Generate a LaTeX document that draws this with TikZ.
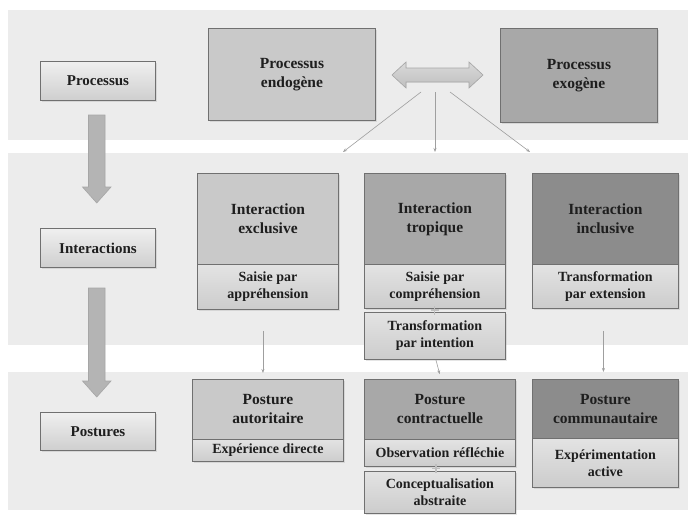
\documentclass[tikz,border=0pt]{standalone}
\usepackage{fontspec}
\setmainfont{Liberation Serif}
\usetikzlibrary{arrows.meta,shadows}
\definecolor{bandc}{HTML}{ECECEC}
\definecolor{linec}{HTML}{707070}
\definecolor{txt}{HTML}{1E1E1E}
\definecolor{cA}{HTML}{C9C9C9}
\definecolor{cB}{HTML}{A8A8A8}
\definecolor{cC}{HTML}{8C8C8C}
\definecolor{arrc}{HTML}{B4B4B4}
\begin{document}
\begin{tikzpicture}[x=1pt,y=-1pt,
  band/.style={fill=bandc,draw=none},
  box/.style={draw=linec,line width=0.9pt,anchor=north west,inner sep=0pt,align=center,text=txt,
    drop shadow={shadow xshift=1.2pt,shadow yshift=-1.2pt,opacity=0.2},
    font=\bfseries\fontsize{15.5}{19}\selectfont},
  titleA/.style={box,fill=cA},
  titleB/.style={box,fill=cB},
  titleC/.style={box,fill=cC},
  subbox/.style={box,top color=gray!22,bottom color=gray!40,font=\bfseries\fontsize{14}{17}\selectfont},
  lbox/.style={box,top color=gray!12,bottom color=gray!38,minimum width=115pt,font=\bfseries\fontsize{15}{18}\selectfont},
  thin/.style={draw=gray!75,line width=0.6pt,-{Stealth[length=4pt,width=3pt]}},
  blockarr/.style={fill=arrc,draw=gray!70,line width=0.6pt},
  plusmark/.style={draw=gray!50,line width=1.6pt}
]
\useasboundingbox (0,0) rectangle (691,517);
\fill[white] (0,0) rectangle (691,517);
% bands
\path[band] (8,10) rectangle (688,140);
\path[band] (8,153) rectangle (688,345);
\path[band] (8,372) rectangle (688,510);

% left labels
\node[lbox,minimum height=39pt] (lp) at (40,61) {Processus};
\node[lbox,minimum height=39pt] (li) at (40,228) {Interactions};
\node[lbox,minimum height=38pt] (lpo) at (40,412) {Postures};

% block arrows down
\path[blockarr] (88.5,115) -- (105,115) -- (105,187) -- (111,187) -- (96.75,203) -- (82.5,187) -- (88.5,187) -- cycle;
\path[blockarr] (88.5,288) -- (105,288) -- (105,381) -- (111,381) -- (96.75,397) -- (82.5,381) -- (88.5,381) -- cycle;

% process boxes
\node[titleA,minimum width=167pt,minimum height=92pt] (pe) at (208,28) {Processus\\endogène};
\node[titleB,minimum width=157pt,minimum height=94pt] (px) at (500,28) {Processus\\exogène};

% double arrow
\path[blockarr,top color=gray!30,bottom color=gray!50] (392,75) -- (406,62) -- (406,68) -- (469,68) -- (469,62) -- (483,75) -- (469,88) -- (469,82) -- (406,82) -- (406,88) -- cycle;
\coordinate (s1) at (421,92);
\coordinate (s2) at (435,92);
\coordinate (s3) at (450,92);
\coordinate (e1) at (343,152);
\coordinate (e2) at (435,152);
\coordinate (e3) at (530,152);
\draw[thin] (s1) -- (e1);
\draw[thin] (s2) -- (e2);
\draw[thin] (s3) -- (e3);

% interactions
\node[titleA,minimum width=141pt,minimum height=91pt] (ie) at (197,173) {Interaction\\exclusive};
\node[subbox,minimum width=141pt,minimum height=45pt] (se) at (197,264) {Saisie par\\appréhension};
\node[titleB,minimum width=141pt,minimum height=91pt] (it) at (364,173) {Interaction\\tropique};
\node[subbox,minimum width=141pt,minimum height=44pt] (st) at (364,264) {Saisie par\\compréhension};
\node[subbox,minimum width=141pt,minimum height=47pt] (tpi) at (364,312) {Transformation\\par intention};
\node[titleC,minimum width=146pt,minimum height=91pt] (ii) at (532,173) {Interaction\\inclusive};
\node[subbox,minimum width=146pt,minimum height=44pt] (si) at (532,264) {Transformation\\par extension};

% postures
\node[titleA,minimum width=151pt,minimum height=60pt] (pa) at (192,379) {Posture\\autoritaire};
\node[subbox,minimum width=151pt,minimum height=22pt] (sa) at (192,439) {Expérience directe};
\node[titleB,minimum width=151pt,minimum height=60pt] (pc) at (364,379) {Posture\\contractuelle};
\node[subbox,minimum width=151pt,minimum height=27pt] (so) at (364,439) {Observation réfléchie};
\node[subbox,minimum width=151pt,minimum height=42pt] (sca) at (364,471) {Conceptualisation\\abstraite};
\node[titleC,minimum width=146pt,minimum height=59pt] (pco) at (532,379) {Posture\\communautaire};
\node[subbox,minimum width=146pt,minimum height=49pt] (sco) at (532,438) {Expérimentation\\active};

% plus connectors
\coordinate (p1) at (434.5,310);
\coordinate (p2) at (436,468.5);
\draw[plusmark] ([xshift=-4pt]p1) -- ([xshift=4pt]p1) ([yshift=-4.5pt]p1) -- ([yshift=4.5pt]p1);
\draw[plusmark] ([xshift=-4pt]p2) -- ([xshift=4pt]p2) ([yshift=-4.5pt]p2) -- ([yshift=4.5pt]p2);

% vertical arrows
\draw[thin,shorten <=21pt,shorten >=6pt] ([xshift=-5pt]se.south) -- ([xshift=-5pt]pa.north);
\draw[thin,shorten >=5pt] ([xshift=1pt]tpi.south) -- ([xshift=1pt]pc.north);
\draw[thin,shorten <=22pt,shorten >=7pt] ([xshift=-2pt]si.south) -- ([xshift=-2pt]pco.north);
\end{tikzpicture}
\end{document}
